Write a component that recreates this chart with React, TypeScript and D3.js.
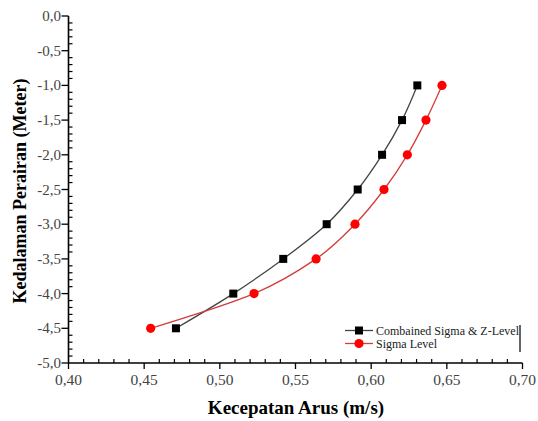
import React from "react";
import * as d3 from "d3";

const depths = [-1.0, -1.5, -2.0, -2.5, -3.0, -3.5, -4.0, -4.5];
const combinedSpeed = [0.6305, 0.6204, 0.6072, 0.5911, 0.5706, 0.5419, 0.5089, 0.471];
const sigmaSpeed = [0.6468, 0.6362, 0.6239, 0.6085, 0.5893, 0.5636, 0.5226, 0.4543];
const xTicks = [0.4, 0.45, 0.5, 0.55, 0.6, 0.65, 0.7];
const yTicks = [0, -0.5, -1.0, -1.5, -2.0, -2.5, -3.0, -3.5, -4.0, -4.5, -5.0];
const seriesNames = ["Combained Sigma & Z-Level", "Sigma Level"];

const W = 538, H = 421;
const x = d3.scaleLinear().domain([0.4, 0.7]).range([68.5, 522.5]);
const y = d3.scaleLinear().domain([0, -5]).range([16, 363]);

const fmt = (v: number, d: number) => v.toFixed(d).replace(".", ",");

export default function App() {
  const line = d3
    .line<[number, number]>()
    .x((d) => x(d[0]))
    .y((d) => y(d[1]))
    .curve(d3.curveMonotoneY);
  const blackPts: [number, number][] = depths.map((d, i) => [combinedSpeed[i], d]);
  const redPts: [number, number][] = depths.map((d, i) => [sigmaSpeed[i], d]);
  const xMinor = d3.range(40, 71).map((v) => v / 100);
  const yMinor = d3.range(0, 51).map((v) => -v / 10);
  const tickFont = "'Liberation Serif', 'Times New Roman', serif";
  return (
    <svg width={W} height={H} style={{ position: "absolute", left: 0, top: 0, background: "#fff" }}>
      <rect width={W} height={H} fill="#fff" />
      {/* axes */}
      <line x1={x(0.4)} x2={x(0.7)} y1={y(-5)} y2={y(-5)} stroke="#000" strokeWidth={1.6} />
      <line x1={x(0.4)} x2={x(0.4)} y1={y(0)} y2={y(-5)} stroke="#000" strokeWidth={1.6} />
      {xMinor.map((v, i) =>
        i % 5 === 0 ? (
          <line key={"xm" + i} x1={x(v)} x2={x(v)} y1={y(-5)} y2={y(-5) + 6} stroke="#000" strokeWidth={1.3} />
        ) : (
          <line key={"xm" + i} x1={x(v)} x2={x(v)} y1={y(-5)} y2={y(-5) - 4} stroke="#000" strokeWidth={1.2} />
        )
      )}
      {yMinor.map((v, i) =>
        i % 5 === 0 ? (
          <line key={"ym" + i} x1={x(0.4) - 7} x2={x(0.4)} y1={y(v)} y2={y(v)} stroke="#000" strokeWidth={1.3} />
        ) : (
          <line key={"ym" + i} x1={x(0.4)} x2={x(0.4) + 4} y1={y(v)} y2={y(v)} stroke="#000" strokeWidth={1.2} />
        )
      )}
      {xTicks.map((v) => (
        <text key={"xt" + v} x={x(v)} y={385} textAnchor="middle" fontFamily={tickFont} fontSize={15.5} fill="#444">
          {fmt(v, 2)}
        </text>
      ))}
      {yTicks.map((v) => (
        <text key={"yt" + v} x={61} y={y(v) + 5} textAnchor="end" fontFamily={tickFont} fontSize={15} fill="#444">
          {fmt(v, 1)}
        </text>
      ))}
      <text x={296} y={414} textAnchor="middle" fontFamily={tickFont} fontWeight="bold" fontSize={19} fill="#000">
        Kecepatan Arus (m/s)
      </text>
      <text
        transform="translate(26,191) rotate(-90)"
        textAnchor="middle"
        fontFamily={tickFont}
        fontWeight="bold"
        fontSize={18}
        fill="#000"
      >
        Kedalaman Perairan (Meter)
      </text>
      {/* series */}
      <path d={line(blackPts) || ""} fill="none" stroke="#444" strokeWidth={1.3} />
      <path d={line(redPts) || ""} fill="none" stroke="#d43c3c" strokeWidth={1.3} />
      {blackPts.map((p, i) => (
        <rect key={"b" + i} x={x(p[0]) - 4} y={y(p[1]) - 4} width={8} height={8} fill="#000" />
      ))}
      {redPts.map((p, i) => (
        <circle key={"r" + i} cx={x(p[0])} cy={y(p[1])} r={4.6} fill="#ff0000" />
      ))}
      {/* legend */}
      <line x1={520} x2={520} y1={325} y2={352} stroke="#000" strokeWidth={1.2} />
      <line x1={345} x2={373} y1={330.5} y2={330.5} stroke="#444" strokeWidth={1.3} />
      <rect x={355} y={326.5} width={8} height={8} fill="#000" />
      <text x={376} y={334.5} fontFamily={tickFont} fontSize={12} fill="#222">
        {seriesNames[0]}
      </text>
      <line x1={345} x2={373} y1={343.5} y2={343.5} stroke="#d43c3c" strokeWidth={1.3} />
      <circle cx={359} cy={343.5} r={4.6} fill="#ff0000" />
      <text x={376} y={347.5} fontFamily={tickFont} fontSize={12} fill="#222">
        {seriesNames[1]}
      </text>
    </svg>
  );
}
